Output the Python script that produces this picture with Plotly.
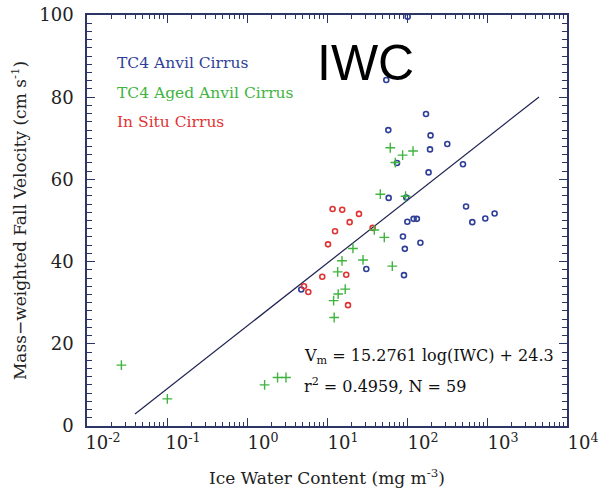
import plotly.graph_objects as go
import numpy as np

# ---- data ----
anvil_iwc = [55.1, 172.8, 58.4, 197, 319, 194, 75, 501, 186, 59, 98, 547, 1245, 952, 655,
             121, 133, 101, 89, 147, 94, 31, 91.7, 4.77, 102]
anvil_vm = [84.2, 75.9, 72.0, 70.7, 68.6, 67.3, 64.0, 63.7, 61.7, 55.5, 55.6, 53.4, 51.7, 50.5, 49.6,
            50.4, 50.4, 49.7, 46.1, 44.6, 43.1, 38.2, 36.7, 33.2, 99.6]

aged_iwc = [61.8, 119, 88.1, 71.4, 46.4, 96, 39, 52, 21.1, 15.4, 28.2, 65.5, 13.6, 16.9, 13.8,
            12.1, 12.3, 0.0269, 0.101, 1.66, 2.41, 3.07]
aged_vm = [67.7, 66.9, 65.9, 64.1, 56.4, 55.9, 47.7, 45.9, 43.2, 40.2, 40.4, 38.9, 37.5, 33.3, 32.1,
           30.5, 26.4, 14.8, 6.6, 10.0, 11.8, 11.8]

insitu_iwc = [11.75, 15.5, 25.1, 19.2, 12.6, 37.2, 10.3, 8.73, 17.4, 5.16, 5.84, 18.3]
insitu_vm = [52.8, 52.6, 51.6, 49.6, 47.4, 48.2, 44.2, 36.3, 36.8, 34.0, 32.6, 29.4]

fit_slope = 15.2761
fit_intercept = 24.3
fit_x_range = [10 ** -1.4, 10 ** 3.65]

x_tick_vals = [0.01, 0.1, 1, 10, 100, 1000, 10000]
x_tick_text = ["10<sup>-2</sup>", "10<sup>-1</sup>", "10<sup>0</sup>", "10<sup>1</sup>",
               "10<sup>2</sup>", "10<sup>3</sup>", "10<sup>4</sup>"]
y_tick_vals = [0, 20, 40, 60, 80, 100]

# all tick positions (major + minor); labels only on the majors
x_all_vals = sorted(set(x_tick_vals + [m * d for d in x_tick_vals[:-1] for m in range(2, 10)]))
x_all_text = [x_tick_text[x_tick_vals.index(v)] if v in x_tick_vals else "" for v in x_all_vals]
y_all_vals = list(range(0, 101, 2))
y_all_text = [str(v) if v in y_tick_vals else "" for v in y_all_vals]

BLUE = "#2f3f98"
GREEN = "#3fb43f"
RED = "#e03434"
AXC = "#2d3566"
FONT = "DejaVu Serif"

fig = go.Figure()

fx = np.array(fit_x_range)
fig.add_trace(go.Scatter(x=fx, y=fit_slope * np.log10(fx) + fit_intercept, mode="lines",
                         line=dict(color="#1e2250", width=1.2), name="fit", showlegend=False))

fig.add_trace(go.Scatter(x=anvil_iwc, y=anvil_vm, mode="markers", name="TC4 Anvil Cirrus",
                         marker=dict(symbol="circle-open", size=5, color=BLUE, line=dict(width=1.6)),
                         showlegend=False))
fig.add_trace(go.Scatter(x=insitu_iwc, y=insitu_vm, mode="markers", name="In Situ Cirrus",
                         marker=dict(symbol="circle-open", size=5, color=RED, line=dict(width=1.6)),
                         showlegend=False))
fig.add_trace(go.Scatter(x=aged_iwc, y=aged_vm, mode="markers", name="TC4 Aged Anvil Cirrus",
                         marker=dict(symbol="cross-thin-open", size=7, color=GREEN, line=dict(width=1.4)),
                         showlegend=False))
# empty trace so the overlay axes (long major ticks) are drawn
fig.add_trace(go.Scatter(x=[], y=[], xaxis="x2", yaxis="y2", showlegend=False, hoverinfo="skip"))

L, R, T, B = 87, 33, 15, 64
W, H = 600, 490
pw, ph = W - L - R, H - T - B

def px2paper(px, py):
    return (px - L) / pw, (H - B - py) / ph

annots = []
for txt, col, py in [("TC4 Anvil Cirrus", BLUE, 63), ("TC4 Aged Anvil Cirrus", GREEN, 93),
                     ("In Situ Cirrus", RED, 122)]:
    xp, yp = px2paper(115, py)
    annots.append(dict(x=xp, y=yp, xref="paper", yref="paper", text=txt, showarrow=False,
                       xanchor="left", yanchor="middle", font=dict(family=FONT, size=15.5, color=col)))
xp, yp = px2paper(365, 63)
annots.append(dict(x=xp, y=yp, xref="paper", yref="paper", text="IWC", showarrow=False,
                   xanchor="center", yanchor="middle", font=dict(family="Liberation Sans", size=50, color="black")))
xp, yp = px2paper(302, 356)
annots.append(dict(x=xp, y=yp, xref="paper", yref="paper",
                   text=f"V<sub>m</sub> = {fit_slope} log(IWC) + {fit_intercept}", showarrow=False,
                   xanchor="left", yanchor="middle", font=dict(family=FONT, size=16, color="#111")))
xp, yp = px2paper(302, 385)
annots.append(dict(x=xp, y=yp, xref="paper", yref="paper",
                   text="r<sup>2</sup> = 0.4959, N = 59", showarrow=False,
                   xanchor="left", yanchor="middle", font=dict(family=FONT, size=16, color="#111")))

fig.update_layout(
    width=W, height=H, margin=dict(l=L, r=R, t=T, b=B),
    plot_bgcolor="white", paper_bgcolor="white",
    font=dict(family=FONT, color="#222"),
    annotations=annots,
    showlegend=False,
    xaxis=dict(type="log", range=[-2, 4], tickmode="array", tickvals=x_all_vals, ticktext=x_all_text,
               showgrid=False, zeroline=False, showline=True, linecolor=AXC, linewidth=1.5,
               mirror="allticks", ticks="inside", ticklen=4, tickcolor=AXC, tickwidth=1,
               tickfont=dict(family=FONT, size=18, color="#222"), ticklabelshift=16,
               ticklabeloverflow="allow", automargin=False,
               title=dict(text="Ice Water Content (mg m<sup>-3</sup>)",
                          font=dict(family=FONT, size=17, color="#222"), standoff=20)),
    yaxis=dict(range=[0, 100], tickmode="array", tickvals=y_all_vals, ticktext=y_all_text,
               showgrid=False, zeroline=False, showline=True, linecolor=AXC, linewidth=1.5,
               mirror="allticks", ticks="inside", ticklen=5, tickcolor=AXC, tickwidth=1,
               tickfont=dict(family=FONT, size=18, color="#222"), ticklabelstandoff=8,
               ticklabeloverflow="allow", automargin=False,
               title=dict(text="Mass\u2212weighted Fall Velocity (cm s<sup>-1</sup>)",
                          font=dict(family=FONT, size=17, color="#222"), standoff=8)),
    xaxis2=dict(type="log", range=[-2, 4], overlaying="x", anchor="y2", side="bottom",
                tickmode="array", tickvals=x_tick_vals, showticklabels=False,
                showgrid=False, zeroline=False, showline=False, mirror="allticks",
                ticks="inside", ticklen=8, tickcolor=AXC, tickwidth=1.2, automargin=False),
    yaxis2=dict(range=[0, 100], overlaying="y", anchor="x2", side="left",
                tickmode="array", tickvals=y_tick_vals, showticklabels=False,
                showgrid=False, zeroline=False, showline=False, mirror="allticks",
                ticks="inside", ticklen=8, tickcolor=AXC, tickwidth=1.2, automargin=False),
)

fig.write_html("out.html")
